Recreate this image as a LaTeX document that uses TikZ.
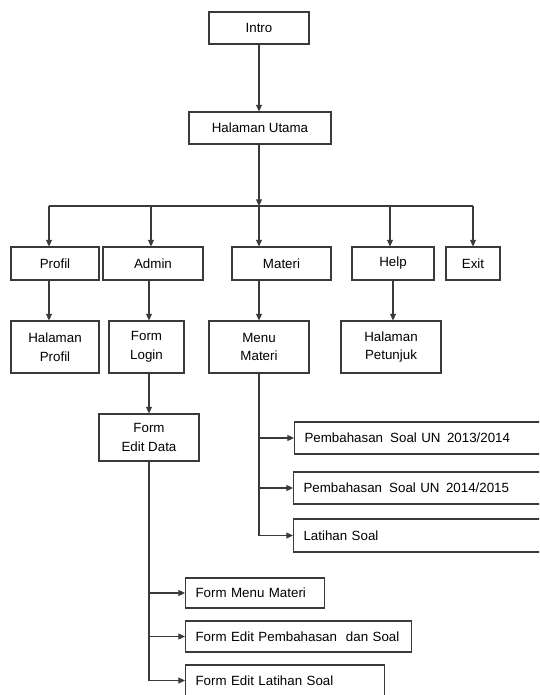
\documentclass[tikz,border=0pt]{standalone}
\usepackage{fontspec}
\setmainfont{Liberation Sans}
\usetikzlibrary{arrows.meta}
\definecolor{garis}{RGB}{58,58,58}
\tikzset{
  kotak/.style={draw=garis, line width=0.8pt, minimum height=24pt, inner sep=1pt, align=center, font=\fontsize{10pt}{14pt}\selectfont},
  kotakkiri/.style={kotak, anchor=west, align=left, inner xsep=7.5pt},
  panah/.style={draw=garis, line width=0.8pt, -{Triangle[length=5pt,width=4.5pt]}},
  garisbiasa/.style={draw=garis, line width=0.8pt}
}
\begin{document}
\begin{tikzpicture}[x=0.75pt,y=0.75pt,yscale=-1,xscale=1]
        \clip (0,0) rectangle (539,695);
        \fill[white] (0,0) rectangle (539,695);
        % Level 0 dan 1
        \node[kotak, minimum width=75pt] (intro) at (259,28) {Intro};
        \node[kotak, minimum width=106.5pt] (utama) at (260,128) {Halaman Utama};
        % Menu utama
        \node[kotak, minimum width=66pt, minimum height=24.75pt] (profil) at (55,263.5) {Profil};
        \node[kotak, minimum width=75pt, minimum height=24.75pt] (admin) at (153,263.5) {Admin};
        \node[kotak, minimum width=74.25pt, minimum height=24.75pt] (materi) at (281.5,263.5) {Materi};
        \node[kotak, minimum width=61.5pt, minimum height=24.75pt] (help) at (393,263.5) {Help};
        \node[kotak, minimum width=40.5pt, minimum height=24.75pt] (exit) at (473,263.5) {Exit};
        % Halaman turunan
        \node[kotak, minimum width=66pt, minimum height=39pt] (hprofil) at (55,347) {Halaman\\Profil};
        \node[kotak, minimum width=56.25pt, minimum height=39pt] (login) at (146.5,347) {Form\\Login};
        \node[kotak, minimum width=75pt, minimum height=39pt] (mmateri) at (259,347) {Menu\\Materi};
        \node[kotak, minimum width=75pt, minimum height=39pt] (petunjuk) at (391,347) {Halaman\\Petunjuk};
        \node[kotak, minimum width=75pt, minimum height=35.25pt] (editdata) at (149,437.5) {Form\\Edit Data};
        % Isi menu materi
        \node[kotakkiri, text width=184.5pt] (un13) at (294,438) {Pembahasan\hspace{2pt} Soal UN\hspace{1.5pt} 2013/2014};
        \node[kotakkiri, text width=185.25pt] (un14) at (293,488) {Pembahasan\hspace{2pt} Soal UN\hspace{1.5pt} 2014/2015};
        \node[kotakkiri, text width=185.25pt, minimum height=24.75pt] (latihan) at (293,535.5) {Latihan Soal};
        % Isi form edit data
        \node[kotakkiri, text width=89.25pt, minimum height=22.5pt] (fmenu) at (185,593) {Form Menu Materi};
        \node[kotakkiri, text width=154.5pt, minimum height=23.25pt] (fbahas) at (185,636.5) {Form Edit Pembahasan \ dan Soal};
        \node[kotakkiri, text width=134.25pt, minimum height=23.25pt] (flatihan) at (185,680.5) {Form Edit Latihan Soal};

        % Titik cabang
        \coordinate (b1) at (49,206);
        \coordinate (b2) at (151,206);
        \coordinate (b3) at (259,206);
        \coordinate (b4) at (390,206);
        \coordinate (b5) at (473,206);

        % Penghubung
        \draw[panah] (intro) -- (intro |- utama.north);
        \draw[panah] (b3 |- utama.south) -- (b3);
        \draw[garisbiasa] (b1) -- (b5);
        \draw[panah] (b1) -- (b1 |- profil.north);
        \draw[panah] (b2) -- (b2 |- admin.north);
        \draw[panah] (b3) -- (b3 |- materi.north);
        \draw[panah] (b4) -- (b4 |- help.north);
        \draw[panah] (b5) -- (b5 |- exit.north);
        \draw[panah] (b1 |- profil.south) -- (b1 |- hprofil.north);
        \draw[panah] (editdata |- admin.south) -- (editdata |- login.north);
        \draw[panah] (b3 |- materi.south) -- (mmateri);
        \draw[panah] (help) -- (help |- petunjuk.north);
        \draw[panah] (editdata |- login.south) -- (editdata);
        % Cabang menu materi
        \draw[garisbiasa] (mmateri) -- (mmateri |- latihan.west);
        \draw[panah] (mmateri |- un13.west) -- (un13);
        \draw[panah] (mmateri |- un14.west) -- (un14);
        \draw[panah] (mmateri |- latihan.west) -- (latihan);
        % Cabang form edit data
        \draw[garisbiasa] (editdata) -- (editdata |- flatihan.west);
        \draw[panah] (editdata |- fmenu.west) -- (fmenu);
        \draw[panah] (editdata |- fbahas.west) -- (fbahas);
        \draw[panah] (editdata |- flatihan.west) -- (flatihan);
    \end{tikzpicture}
\end{document}
